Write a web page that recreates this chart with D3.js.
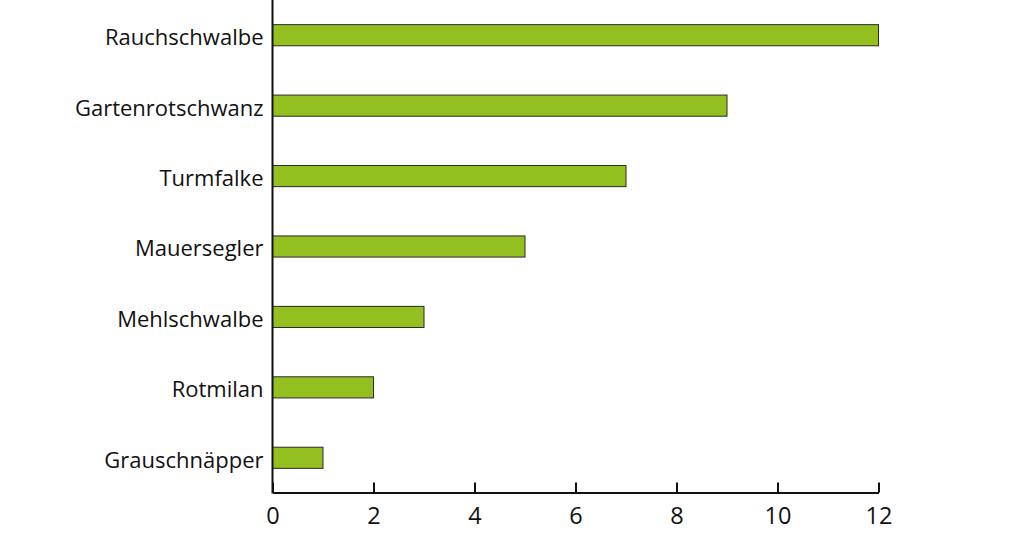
<!DOCTYPE html>
<html><head><meta charset="utf-8">
<script src="https://cdn.jsdelivr.net/npm/d3@7"></script>
<style>body{margin:0;background:#fff}svg text{font-family:"Open Sans","Noto Sans",sans-serif;fill:#111}</style>
</head><body>
<svg id="c" width="1024" height="534"></svg>
<script>
const categories = ["Rauchschwalbe","Gartenrotschwanz","Turmfalke","Mauersegler","Mehlschwalbe","Rotmilan","Grauschnäpper"];
const values = [12,9,7,5,3,2,1];
const xTicks = [0,2,4,6,8,10,12];

const svg = d3.select("#c");
const x = d3.scaleLinear().domain([0,12]).range([272.5,878.5]);
const y = d3.scaleBand().domain(categories).range([0,493]).paddingInner(0.7).paddingOuter(0.35);

svg.selectAll("rect.bar").data(categories).join("rect").attr("class","bar")
  .attr("x", x(0)).attr("y", d=>y(d))
  .attr("width", (d,i)=>x(values[i])-x(0)).attr("height", y.bandwidth())
  .attr("fill","#93c01f").attr("stroke","#2a2a2a").attr("stroke-width",1);

const xa = svg.append("g").attr("transform","translate(0,492.5)")
  .call(d3.axisBottom(x).tickValues(xTicks).tickSize(-10).tickPadding(23).tickSizeOuter(0));
xa.select(".domain").attr("stroke","#111").attr("stroke-width",2);
xa.selectAll(".tick line").attr("stroke","#111").attr("stroke-width",2);
xa.selectAll(".tick text").attr("font-size",23.5).attr("dy","0.35em");

const ya = svg.append("g").attr("transform","translate(272.5,0)")
  .call(d3.axisLeft(y).tickSize(0).tickPadding(9));
ya.select(".domain").attr("stroke","#111").attr("stroke-width",2).attr("d","M0,0V493.5");
ya.selectAll(".tick text").attr("font-size",22).attr("dy","0.45em");
</script>
</body></html>
